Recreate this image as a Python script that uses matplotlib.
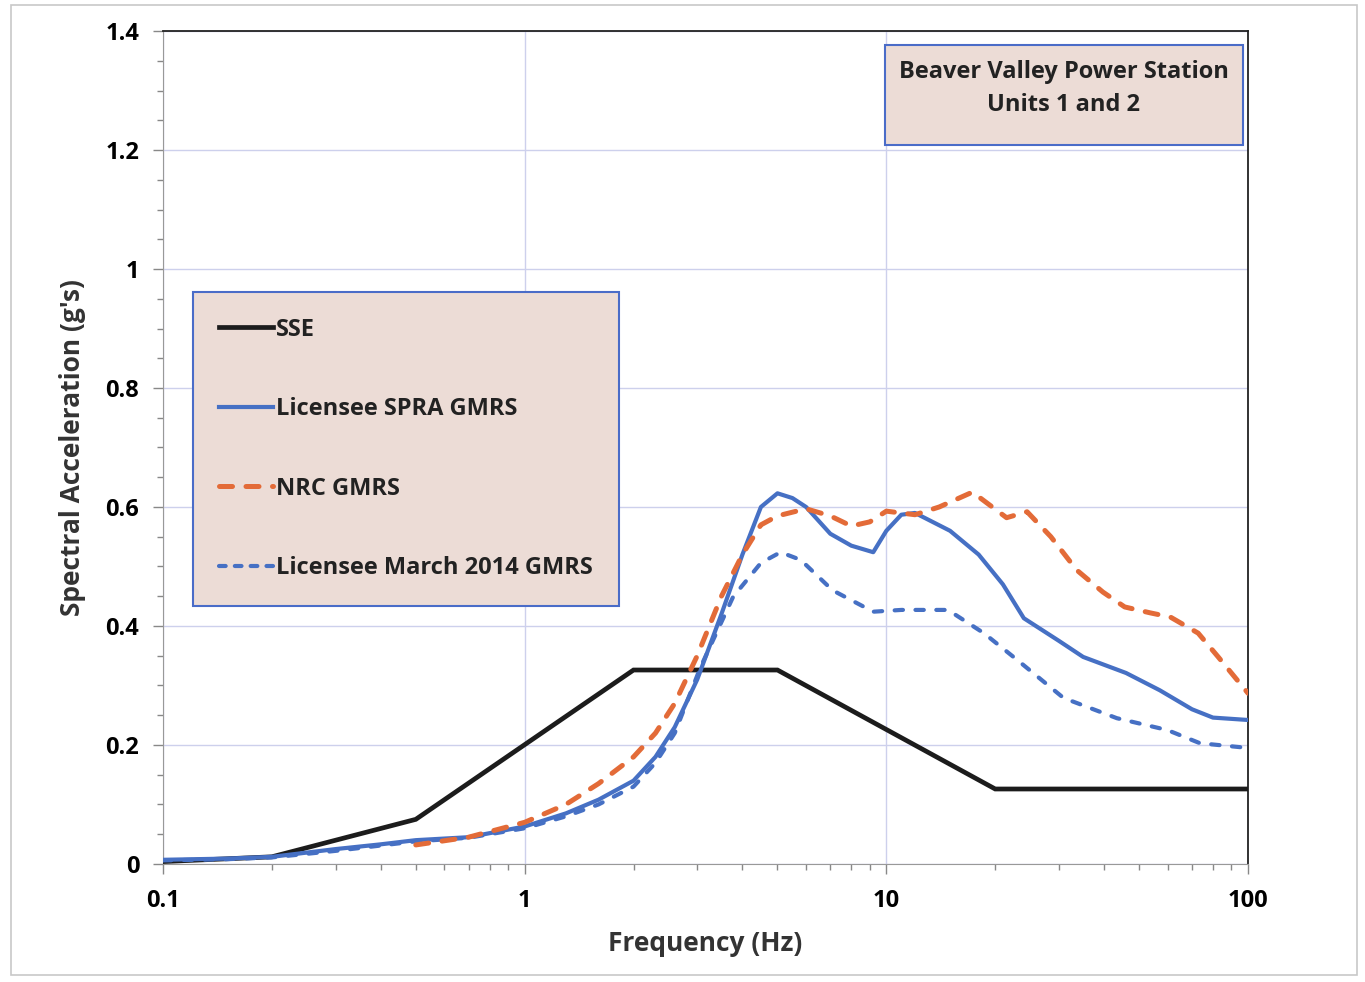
import numpy as np
import matplotlib
matplotlib.use('Agg')
import matplotlib.pyplot as plt
from matplotlib.lines import Line2D
from matplotlib.patches import Rectangle
from matplotlib.ticker import FixedLocator,FixedFormatter,MultipleLocator

plt.rcParams['font.family'] = ['Open Sans','DejaVu Sans']
plt.rcParams['font.weight'] = 'bold'

# Response spectra (frequency in Hz, acceleration in g)
sse_f = [0.1,0.2,0.5,2.0,5.0,20.0,100.0]
sse_a = [0.004,0.012,0.075,0.326,0.326,0.126,0.126]

spra_f = [0.1,0.15,0.2,0.3,0.4,0.5,0.7,1.0,1.3,1.6,2.0,2.3,2.6,3.0,3.5,4.0,4.5,5.0,5.5,6.0,7.0,8.0,9.2,10.0,11.0,12.0,15.0,18.0,21.0,24.0,30.0,35.0,46.0,57.0,70.0,80.0,100.0]
spra_a = [0.007,0.009,0.012,0.025,0.033,0.04,0.045,0.063,0.085,0.108,0.14,0.18,0.23,0.31,0.42,0.52,0.6,0.623,0.615,0.6,0.555,0.535,0.524,0.56,0.587,0.59,0.56,0.52,0.47,0.413,0.375,0.348,0.321,0.292,0.26,0.246,0.242]

nrc_f = [0.5,0.7,1.0,1.3,1.6,2.0,2.3,2.6,3.0,3.5,4.0,4.5,5.0,6.0,7.0,8.0,9.0,10.0,12.0,14.0,17.3,21.5,24.5,28.5,33.6,39.7,45.6,53.7,61.0,72.8,82.7,100.0]
nrc_a = [0.032,0.045,0.07,0.1,0.135,0.18,0.22,0.27,0.35,0.45,0.52,0.57,0.585,0.597,0.585,0.568,0.575,0.593,0.587,0.6,0.625,0.582,0.592,0.55,0.494,0.457,0.432,0.422,0.415,0.388,0.348,0.287]

mar14_f = [0.1,0.15,0.2,0.3,0.4,0.5,0.7,1.0,1.3,1.6,2.0,2.3,2.6,3.06,3.77,4.5,5.1,5.8,7.1,9.2,11.0,13.4,14.8,18.6,23.0,30.9,43.4,59.9,73.6,100.0]
mar14_a = [0.006,0.008,0.011,0.022,0.031,0.038,0.044,0.06,0.08,0.1,0.13,0.17,0.22,0.33,0.449,0.506,0.524,0.511,0.46,0.424,0.427,0.427,0.427,0.388,0.343,0.279,0.245,0.225,0.203,0.195]

xtick_vals = [0.1,1,10,100]
xtick_labs = ['0.1','1','10','100']
ytick_vals = [0,0.2,0.4,0.6,0.8,1.0,1.2,1.4]
ytick_labs = ['0','0.2','0.4','0.6','0.8','1','1.2','1.4']

c_sse = '#1c1c1c'
c_blue = '#4670c4'
c_orange = '#e36b38'
c_box = '#ecdcd6'
c_edge = '#4a6cc8'

fig = plt.figure(figsize=(13.65,9.82),dpi=100,facecolor='w')
fig.patches.append(Rectangle((0.008,0.007),0.986,0.988,transform=fig.transFigure,fill=False,edgecolor='#c8c8c8',lw=1.2))
ax = fig.add_axes([0.1194,0.1202,0.9143-0.1194,0.9684-0.1202])

orange_dash = (2.6,2.7)
blue_dash = (2.0,3.0)
ax.plot(sse_f,sse_a,color=c_sse,lw=3.4,solid_joinstyle='miter',zorder=3)
ax.plot(spra_f,spra_a,color=c_blue,lw=3.0,zorder=4)
ax.plot(nrc_f,nrc_a,color=c_orange,lw=3.6,dashes=orange_dash,dash_capstyle='round',zorder=5)
ax.plot(mar14_f,mar14_a,color=c_blue,lw=3.0,dashes=blue_dash,dash_capstyle='round',zorder=4)

ax.set_xscale('log')
ax.set_xlim(0.1,100)
ax.set_ylim(0,1.4)
ax.xaxis.set_major_locator(FixedLocator(xtick_vals))
ax.xaxis.set_major_formatter(FixedFormatter(xtick_labs))
ax.yaxis.set_major_locator(FixedLocator(ytick_vals))
ax.yaxis.set_major_formatter(FixedFormatter(ytick_labs))
ax.yaxis.set_minor_locator(MultipleLocator(0.05))
ax.tick_params(axis='both',which='major',labelsize=17,length=7,width=1,color='#888888',pad=10)
ax.tick_params(axis='x',which='major',pad=11)
ax.tick_params(axis='both',which='minor',length=4,width=1,color='#888888')
ax.grid(True,which='major',color='#cdd0ec',lw=1.0)
ax.set_axisbelow(True)
for side in ['left','bottom']:
    ax.spines[side].set_color('#999999')
for side in ['top','right']:
    ax.spines[side].set_color('#222222')
    ax.spines[side].set_linewidth(1.3)

ax.set_xlabel('Frequency (Hz)',fontsize=19,fontweight='bold',color='#333333',labelpad=12)
ax.set_ylabel("Spectral Acceleration (g's)",fontsize=19,fontweight='bold',color='#333333',labelpad=14)

handles = [Line2D([],[],color=c_sse,lw=3.4),
           Line2D([],[],color=c_blue,lw=3.0),
           Line2D([],[],color=c_orange,lw=3.6,dashes=orange_dash,dash_capstyle='round'),
           Line2D([],[],color=c_blue,lw=3.0,dashes=(1.6,2.2),dash_capstyle='round')]
labels = ['SSE','Licensee SPRA GMRS','NRC GMRS','Licensee March 2014 GMRS']
leg = ax.legend(handles,labels,loc='upper left',bbox_to_anchor=(0.0277,0.687),fontsize=17,
                frameon=True,fancybox=False,facecolor=c_box,edgecolor=c_edge,framealpha=1,
                labelspacing=2.35,handlelength=2.3,handletextpad=0.12,borderpad=1.1,borderaxespad=0)
leg.get_frame().set_linewidth(1.5)
for t in leg.get_texts():
    t.set_color('#222222')
    t.set_fontweight('bold')

# station name box in the upper right corner
ax.add_patch(Rectangle((0.6654,0.8631),0.9954-0.6654,0.9832-0.8631,transform=ax.transAxes,
                       facecolor=c_box,edgecolor=c_edge,lw=1.5,zorder=6))
ax.text(0.8304,0.931,'Beaver Valley Power Station\nUnits 1 and 2',transform=ax.transAxes,
        ha='center',va='center',fontsize=17,fontweight='bold',color='#222222',linespacing=1.45,zorder=7)

fig.savefig('out.png',dpi=100)
